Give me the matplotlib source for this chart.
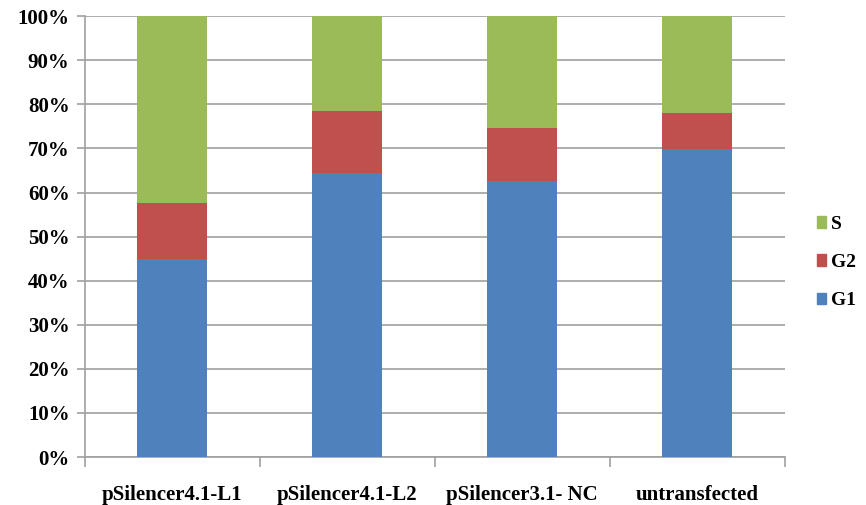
import numpy as np
import matplotlib
matplotlib.use('Agg')
import matplotlib.pyplot as plt
from matplotlib.patches import Patch

categories = ['pSilencer4.1-L1', 'pSilencer4.1-L2', 'pSilencer3.1- NC', 'untransfected']
g1 = [44.9, 64.4, 62.6, 69.8]
g2 = [12.7, 14.1, 12.0, 8.2]
s = [42.4, 21.5, 25.4, 22.0]

blue = '#4f81bd'
red = '#c0504d'
green = '#9bbb59'

plt.rcParams['font.family'] = ['Liberation Serif', 'DejaVu Serif']
plt.rcParams['font.weight'] = 'bold'

fig = plt.figure(figsize=(8.66, 5.05), dpi=100)
ax = fig.add_axes([0.098, 0.095, 0.808, 0.873])

x = np.arange(len(categories))
g1 = np.array(g1)
g2 = np.array(g2)
s = np.array(s)
ax.bar(x, g1, width=0.4, color=blue, zorder=3)
ax.bar(x, g2, width=0.4, bottom=g1, color=red, zorder=3)
ax.bar(x, s, width=0.4, bottom=g1 + g2, color=green, zorder=3)

ax.set_xlim(-0.5, len(categories) - 0.5)
ax.set_ylim(0, 100)
ax.set_yticks(np.arange(0, 101, 10))
ax.set_yticklabels(['%d%%' % v for v in range(0, 101, 10)], fontsize=15,
                   fontweight='bold')
ax.yaxis.grid(True, color='#a0a0a0', linewidth=1.2, zorder=0)

# category labels centred, ticks on the boundaries
ax.set_xticks(np.arange(-0.5, len(categories), 1.0))
ax.set_xticklabels([])
ax.set_xticks(x, minor=True)
ax.set_xticklabels(categories, minor=True, fontsize=15, fontweight='bold')
ax.tick_params(axis='x', which='minor', length=0, pad=20)
ax.tick_params(axis='x', which='major', length=7, color='#a0a0a0', width=1.2)
ax.tick_params(axis='y', length=6, color='#a0a0a0', width=1.2, pad=5)

for side in ['top', 'right']:
    ax.spines[side].set_visible(False)
for side in ['left', 'bottom']:
    ax.spines[side].set_color('#a0a0a0')
    ax.spines[side].set_linewidth(1.2)

handles = [Patch(color=green, label='S'), Patch(color=red, label='G2'),
           Patch(color=blue, label='G1')]
fig.legend(handles=handles, loc='center left', bbox_to_anchor=(0.943, 0.48),
           frameon=False, fontsize=14, handlelength=0.5, handleheight=0.55,
           handletextpad=0.25, labelspacing=1.1, borderaxespad=0,
           borderpad=0)

fig.savefig('out.png', dpi=100)
